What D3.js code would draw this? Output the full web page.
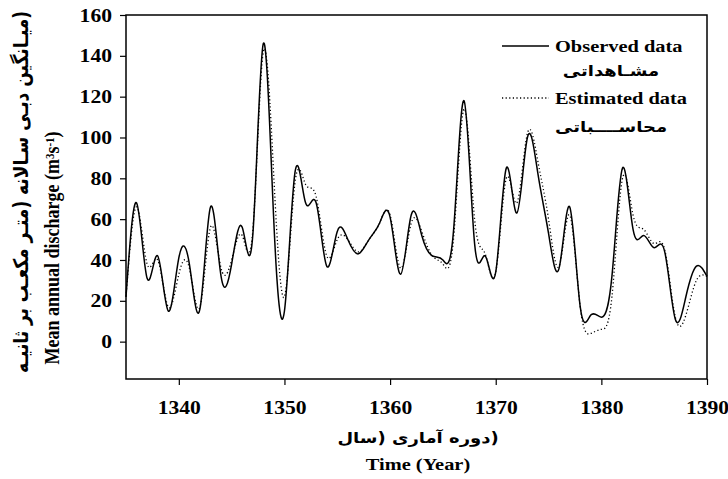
<!DOCTYPE html>
<html>
<head>
<meta charset="utf-8">
<script src="https://cdn.jsdelivr.net/npm/d3@7"></script>
<style>
  body { margin: 0; background: #fff; }
  svg text { font-family: "Liberation Serif", "Times New Roman", serif; font-weight: bold; fill: #000; }
  .fa { font-family: "DejaVu Sans", "Noto Sans", sans-serif; }
</style>
</head>
<body>
<div id="chart"></div>
<script>
// yearly series, 1335 - 1390
let years = d3.range(1335, 1391);
let observed = [22, 68, 31, 42, 15, 41, 38, 16, 66, 32, 38, 56, 52, 146, 58, 15, 83, 68, 68, 37,
  54, 50, 43, 50, 58, 61, 33, 62, 52, 42, 40, 54, 118, 48, 42, 34, 85, 63, 100, 82,
  53, 36, 66, 17, 13, 12, 32, 85, 55, 52, 46, 44, 11, 22, 37, 32];
let estimated = [22, 66, 38, 40, 17, 33, 36, 17, 56, 36, 40, 52, 54, 142, 80, 22, 78, 77, 71, 42,
  50, 50, 44, 50, 58, 62, 36, 58, 54, 42, 38, 50, 114, 60, 43, 34, 80, 68, 102, 88,
  60, 37, 62, 17, 4, 6, 22, 80, 62, 55, 48, 45, 12, 13, 30, 32];
let xTicks = [1340, 1350, 1360, 1370, 1380, 1390];
let yTicks = [0, 20, 40, 60, 80, 100, 120, 140, 160];

let margin = { top: 15, right: 21, bottom: 100, left: 126 };
let width = 728 - margin.left - margin.right;
let height = 479 - margin.top - margin.bottom;
let sx = 1.2; // text in the picture is a little wider than it is tall

let svg = d3.select('#chart').append('svg')
  .attr('width', 728)
  .attr('height', 479);

let g = svg.append('g')
  .attr('transform', `translate(${margin.left}, ${margin.top})`);

let x = d3.scaleLinear().domain([1335, 1390]).range([0, width]);
let y = d3.scaleLinear().domain([-18.3, 160]).range([height, 0]);

// axes
let yAxis = g.append('g')
  .call(d3.axisLeft(y).tickValues(yTicks).tickSize(6).tickPadding(0).tickFormat(d3.format('d')));
yAxis.select('.domain').remove();
yAxis.selectAll('line').attr('stroke-width', 1.2);
yAxis.selectAll('text')
  .attr('x', 0).attr('dy', '0.34em')
  .attr('transform', `translate(-14, 0) scale(${sx}, 1)`)
  .style('font-size', '18px');

let xAxis = g.append('g')
  .attr('transform', `translate(0, ${height})`)
  .call(d3.axisBottom(x).tickValues(xTicks).tickSize(6).tickFormat(d3.format('d')));
xAxis.select('.domain').remove();
xAxis.selectAll('line').attr('stroke-width', 1.2);
xAxis.selectAll('text')
  .attr('y', 0).attr('dy', 0)
  .attr('transform', `translate(0, 35) scale(${sx}, 1)`)
  .style('font-size', '18px');

// frame
g.append('rect')
  .attr('width', width)
  .attr('height', height)
  .attr('fill', 'none')
  .attr('stroke', '#000')
  .attr('stroke-width', 1.5);

// series
let line = d3.line()
  .x((d, i) => x(years[i]))
  .y(d => y(d))
  .curve(d3.curveNatural);

g.append('path')
  .datum(estimated)
  .attr('d', line)
  .attr('fill', 'none')
  .attr('stroke', '#000')
  .attr('stroke-width', 1.3)
  .attr('stroke-dasharray', '1.2,2.4');

g.append('path')
  .datum(observed)
  .attr('d', line)
  .attr('fill', 'none')
  .attr('stroke', '#000')
  .attr('stroke-width', 1.5);

// legend
let legend = svg.append('g');
legend.append('line')
  .attr('x1', 502).attr('x2', 549).attr('y1', 46).attr('y2', 46)
  .attr('stroke', '#000').attr('stroke-width', 1.3);
legend.append('line')
  .attr('x1', 502).attr('x2', 549).attr('y1', 98).attr('y2', 98)
  .attr('stroke', '#000').attr('stroke-width', 1.3)
  .attr('stroke-dasharray', '1.2,2.4');

function label(parent, text, px, py, size, anchor, cls) {
  return parent.append('text')
    .attr('class', cls || null)
    .attr('transform', `translate(${px}, ${py}) scale(${sx}, 1)`)
    .attr('text-anchor', anchor)
    .style('font-size', size + 'px')
    .text(text);
}

label(legend, 'Observed data', 555, 52, 17, 'start');
label(legend, 'مشـاهداتی', 611, 76, 15, 'middle', 'fa').attr('direction', 'rtl');
label(legend, 'Estimated data', 555, 104, 17, 'start');
label(legend, 'محاســــباتی', 611, 132, 15, 'middle', 'fa').attr('direction', 'rtl');

// x title
label(svg, '(دوره آماری (سال', 418, 443, 15, 'middle', 'fa').attr('direction', 'rtl');
label(svg, 'Time (Year)', 418, 470, 17, 'middle');

// y title, two rotated lines
svg.append('text')
  .attr('class', 'fa')
  .attr('direction', 'rtl')
  .attr('text-anchor', 'middle')
  .attr('transform', `translate(28, 192) rotate(-90) scale(1, ${sx})`)
  .style('font-size', '17px')
  .text('(میـانگین دبـی سـالانه (متـر مکعـب بر ثانیـه');

let yt = svg.append('text')
  .attr('text-anchor', 'middle')
  .attr('transform', `translate(59, 248) rotate(-90) scale(1, ${sx})`)
  .style('font-size', '18px');
yt.append('tspan').text('Mean annual discharge (m');
yt.append('tspan').attr('baseline-shift', '45%').style('font-size', '11px').text('3');
yt.append('tspan').text('s');
yt.append('tspan').attr('baseline-shift', '45%').style('font-size', '11px').text('-1');
yt.append('tspan').text(')');
</script>
</body>
</html>
